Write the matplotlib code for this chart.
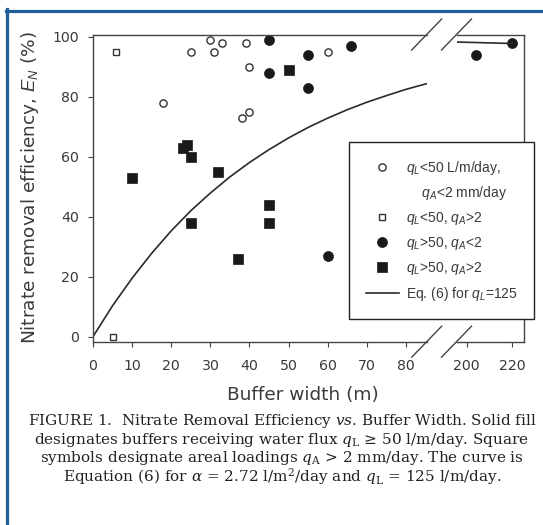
import matplotlib
matplotlib.use("Agg")
import matplotlib.pyplot as plt
import numpy as np
from matplotlib.lines import Line2D

plt.rcParams['font.family'] = ['DejaVu Sans']
plt.rcParams['mathtext.fontset'] = 'custom'
plt.rcParams['mathtext.rm'] = 'Liberation Sans'
plt.rcParams['mathtext.it'] = 'Liberation Sans:italic'

# data
open_circ_x = [18, 25, 30, 31, 33, 39, 40, 38, 40, 60]
open_circ_y = [78, 95, 99, 95, 98, 98, 90, 73, 75, 95]
open_sq_x = [6, 5]
open_sq_y = [95, 0]
fill_circ_x = [45, 45, 55, 55, 60, 66, 204, 220]
fill_circ_y = [99, 88, 94, 83, 27, 97, 94, 98]
fill_sq_x = [10, 23, 24, 25, 32, 25, 37, 45, 45, 50]
fill_sq_y = [53, 63, 64, 60, 55, 38, 26, 44, 38, 89]

# Eq. (6) curve
curve_x = [0, 5, 10, 15, 20, 25, 30, 35, 40, 45, 50, 55, 60, 65, 70, 75, 80, 85, 90,
           195, 200, 210, 220]
curve_y = [0, 10.3, 19.5, 27.8, 35.3, 42.0, 47.9, 53.3, 58.1, 62.4, 66.3, 69.8, 72.9,
           75.7, 78.2, 80.4, 82.5, 84.3, 85.9, 98.3, 98.2, 98.0, 97.8]

left_ticks = [0, 10, 20, 30, 40, 50, 60, 70, 80]
right_ticks = [200, 220]
y_ticks = [0, 20, 40, 60, 80, 100]

caption_lines = [
    'FIGURE 1.  Nitrate Removal Efficiency $vs$. Buffer Width. Solid fill',
    r'designates buffers receiving water flux $q_{\rm L}$ ≥ 50 l/m/day. Square',
    r'symbols designate areal loadings $q_{\rm A}$ > 2 mm/day. The curve is',
    r'Equation (6) for $\alpha$ = 2.72 l/m$^2$/day and $q_{\rm L}$ = 125 l/m/day.',
]

W, H = 543, 525
TXT = '#3a3a3a'
LN = '#444444'

fig = plt.figure(figsize=(W / 100, H / 100), dpi=100)
bot, top = 341.7, 34.5
ax1 = fig.add_axes([93 / W, 1 - bot / H, (426.7 - 93) / W, (bot - top) / H])
ax2 = fig.add_axes([456.5 / W, 1 - bot / H, (524 - 456.5) / W, (bot - top) / H])

series = [
    (open_circ_x, open_circ_y, dict(marker='o', ms=5.2, mfc='white', mec='#333333', mew=1.0)),
    (open_sq_x, open_sq_y, dict(marker='s', ms=4.6, mfc='white', mec='#333333', mew=1.0)),
    (fill_circ_x, fill_circ_y, dict(marker='o', ms=7.2, mfc='#1a1a1a', mec='#1a1a1a', mew=0.5)),
    (fill_sq_x, fill_sq_y, dict(marker='s', ms=7, mfc='#1a1a1a', mec='#1a1a1a', mew=0.5)),
]
handles = []
for xs, ys, st in series:
    xs = np.array(xs)
    ys = np.array(ys)
    m = xs < 100
    h, = ax1.plot(xs[m], ys[m], ls='none', clip_on=False, **st)
    ax2.plot(xs[~m], ys[~m], ls='none', clip_on=False, **st)
    handles.append(h)

cx = np.array(curve_x)
cy = np.array(curve_y)
lc, = ax1.plot(cx[cx < 100], cy[cx < 100], color='#2a2a2a', lw=1.2)
ax2.plot(cx[cx > 100], cy[cx > 100], color='#2a2a2a', lw=1.2)

ax1.set_xlim(0, 85.3)
ax2.set_xlim(195.5, 225.1)
for ax in (ax1, ax2):
    ax.set_ylim(-1.7, 100.8)
    for s in ax.spines.values():
        s.set_color(LN)
        s.set_linewidth(1.0)
    ax.tick_params(direction='out', length=3.3, width=0.8, color=LN,
                   labelcolor=TXT, labelsize=10.2)
    ax.tick_params(axis='x', pad=9)
    ax.tick_params(axis='y', pad=7)
    ax.patch.set_alpha(0)

ax1.spines['right'].set_visible(False)
ax2.spines['left'].set_visible(False)
ax1.set_xticks(left_ticks)
ax2.set_xticks(right_ticks)
ax1.set_yticks(y_ticks)
ax2.set_yticks([])

fig.text(30 / W, 1 - 188 / H, r'Nitrate removal efficiency, $E_N$ (%)', rotation=90,
         ha='center', va='center', fontsize=13.3, color=TXT)
fig.text(303 / W, 1 - 395 / H, 'Buffer width (m)', ha='center', va='center',
         fontsize=13.3, color=TXT)

# break marks
for xc in (426.7, 456.5):
    for yc in (top, bot):
        fig.add_artist(Line2D([(xc - 15) / W, (xc + 15) / W],
                              [1 - (yc + 15.5) / H, 1 - (yc - 15.5) / H],
                              color=LN, lw=1.0))

blank = Line2D([], [], ls='none', marker='')
labels = [r'$q_L$<50 L/m/day,', r'    $q_A$<2 mm/day', r'$q_L$<50, $q_A$>2',
          r'$q_L$>50, $q_A$<2', r'$q_L$>50, $q_A$>2', r'Eq. (6) for $q_L$=125']
leg = fig.legend([handles[0], blank, handles[1], handles[2], handles[3], lc], labels,
                 loc='upper left', bbox_to_anchor=(349 / W, 1 - 142 / H),
                 bbox_transform=fig.transFigure, borderaxespad=0,
                 prop={'family': 'Liberation Sans', 'size': 10},
                 numpoints=1, handlelength=2.4, handletextpad=0.5,
                 labelspacing=0.56, borderpad=1.2, fancybox=False, framealpha=1,
                 edgecolor='#222222')
leg.get_frame().set_linewidth(1.0)
for t in leg.get_texts():
    t.set_color(TXT)

for i, line in enumerate(caption_lines):
    fig.text(282 / W, 1 - (421.5 + 18.3 * i) / H, line, ha='center', va='center',
             family='DejaVu Serif', math_fontfamily='dejavuserif', fontsize=11,
             color='#222222')

# blue frame along the left and top edges
fig.add_artist(Line2D([6.5 / W, 6.5 / W], [0, 1 - 9 / H], color='#1f5f99', lw=2.3))
fig.add_artist(Line2D([5.5 / W, 1], [1 - 10.5 / H, 1 - 10.5 / H], color='#1f5f99', lw=2.3))

fig.savefig('out.png', dpi=100)
